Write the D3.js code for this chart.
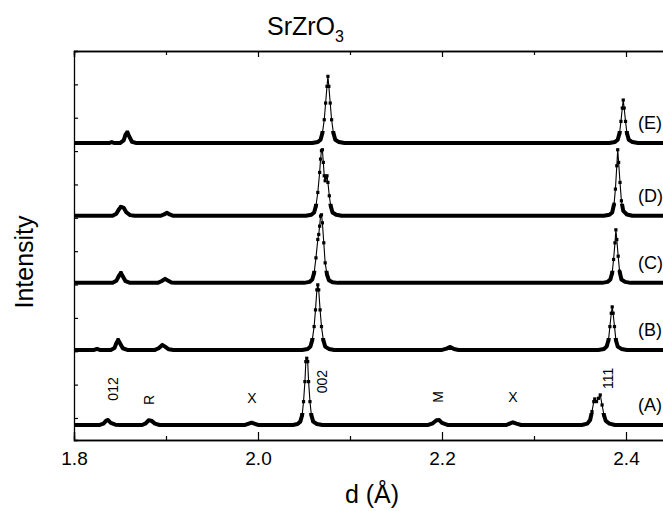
<!DOCTYPE html>
<html><head><meta charset="utf-8">
<script src="https://cdn.jsdelivr.net/npm/d3@7"></script>
<style>body{margin:0;background:#fff}svg{display:block}text{font-family:"Liberation Sans",Arial,sans-serif;fill:#000}</style>
</head><body>
<script>
// ---- data (d in Å, intensity relative to each trace's own baseline, arbitrary units) ----
const seriesNames = ["(A)","(B)","(C)","(D)","(E)"];
const seriesOffsets = [-0.21, 2.04, 4.05, 6.06, 8.24];
const seriesA = [[1.800,0],[1.828,0],[1.832,0.04],[1.835,0.13],[1.837,0.15],[1.840,0.06],[1.845,0.01],[1.850,0],[1.874,0],[1.878,0.05],[1.881,0.14],[1.884,0.13],[1.888,0.04],[1.893,0],[1.986,0],[1.990,0.04],[1.993,0.07],[1.996,0.04],[2.000,0],[2.038,0],[2.043,0.03],[2.046,0.1],[2.048,0.3],[2.0495,0.7],[2.051,1.3],[2.052,1.9],[2.053,2.0],[2.054,1.9],[2.055,1.3],[2.0565,0.7],[2.058,0.3],[2.060,0.1],[2.064,0.03],[2.070,0],[2.185,0],[2.190,0.05],[2.194,0.14],[2.197,0.15],[2.200,0.06],[2.206,0],[2.270,0],[2.274,0.05],[2.277,0.08],[2.281,0.04],[2.286,0],[2.352,0],[2.358,0.04],[2.361,0.15],[2.363,0.4],[2.365,0.7],[2.366,0.78],[2.368,0.7],[2.370,0.8],[2.372,0.9],[2.374,0.6],[2.376,0.3],[2.378,0.12],[2.382,0.04],[2.388,0],[2.450,0]];
const seriesB = [[1.800,0],[1.822,0],[1.825,0.03],[1.828,0],[1.840,0],[1.844,0.06],[1.846,0.2],[1.848,0.3],[1.850,0.2],[1.853,0.05],[1.858,0],[1.888,0],[1.892,0.05],[1.896,0.15],[1.899,0.1],[1.903,0.02],[1.908,0],[2.048,0],[2.054,0.03],[2.057,0.1],[2.059,0.3],[2.061,0.7],[2.0625,1.2],[2.064,1.8],[2.065,1.95],[2.066,1.8],[2.0675,1.2],[2.069,0.7],[2.071,0.3],[2.073,0.1],[2.077,0.03],[2.083,0],[2.200,0],[2.205,0.04],[2.209,0.09],[2.213,0.03],[2.218,0],[2.370,0],[2.376,0.03],[2.379,0.1],[2.381,0.3],[2.3825,0.7],[2.384,1.1],[2.385,1.29],[2.386,1.1],[2.3875,0.7],[2.389,0.3],[2.391,0.1],[2.395,0.03],[2.401,0],[2.450,0]];
const seriesC = [[1.800,0],[1.842,0],[1.846,0.06],[1.849,0.22],[1.851,0.3],[1.853,0.2],[1.856,0.05],[1.861,0],[1.891,0],[1.895,0.05],[1.899,0.12],[1.902,0.07],[1.906,0.01],[1.910,0],[2.050,0],[2.056,0.03],[2.059,0.1],[2.061,0.3],[2.063,0.75],[2.065,1.3],[2.066,1.45],[2.067,1.7],[2.068,2.0],[2.069,2.04],[2.070,1.8],[2.0715,1.2],[2.073,0.6],[2.075,0.25],[2.077,0.08],[2.081,0.02],[2.087,0],[2.374,0],[2.380,0.03],[2.383,0.1],[2.385,0.3],[2.3865,0.7],[2.388,1.2],[2.389,1.59],[2.390,1.3],[2.3915,0.8],[2.393,0.35],[2.395,0.1],[2.399,0.03],[2.405,0],[2.450,0]];
const seriesD = [[1.800,0],[1.842,0],[1.846,0.06],[1.849,0.2],[1.851,0.27],[1.854,0.24],[1.857,0.1],[1.861,0.02],[1.866,0],[1.894,0],[1.898,0.04],[1.901,0.09],[1.904,0.04],[1.908,0],[2.052,0],[2.058,0.03],[2.061,0.1],[2.063,0.3],[2.065,0.7],[2.067,1.3],[2.068,1.7],[2.069,1.95],[2.070,1.98],[2.071,1.6],[2.072,1.2],[2.073,1.05],[2.074,1.15],[2.075,1.2],[2.076,1.0],[2.0775,0.6],[2.079,0.3],[2.081,0.1],[2.085,0.03],[2.091,0],[2.376,0],[2.382,0.03],[2.385,0.1],[2.387,0.35],[2.3885,0.8],[2.390,1.5],[2.391,1.98],[2.392,1.6],[2.3935,1.0],[2.395,0.45],[2.397,0.15],[2.401,0.04],[2.407,0],[2.450,0]];
const seriesE = [[1.800,0],[1.838,0],[1.841,0.03],[1.844,0],[1.850,0],[1.854,0.08],[1.856,0.25],[1.858,0.33],[1.860,0.2],[1.863,0.04],[1.868,0],[2.059,0],[2.065,0.03],[2.068,0.1],[2.070,0.3],[2.072,0.7],[2.0735,1.2],[2.075,1.7],[2.076,2.0],[2.077,1.7],[2.0785,1.2],[2.080,0.7],[2.082,0.3],[2.084,0.1],[2.088,0.03],[2.094,0],[2.382,0],[2.388,0.03],[2.391,0.1],[2.393,0.3],[2.3945,0.65],[2.396,1.05],[2.397,1.29],[2.398,1.05],[2.3995,0.65],[2.401,0.3],[2.403,0.1],[2.407,0.03],[2.413,0],[2.450,0]];
const allSeries = [seriesA, seriesB, seriesC, seriesD, seriesE];
const peakLabels = ["012","R","X","002","M","X","111"];
const peakLabelD = [1.8424,1.8815,1.9935,2.0696,2.1957,2.2772,2.3804];
const peakLabelLevel = [1.08,0.75,0.81,1.30,0.84,0.84,1.40];
const peakLabelRotated = [true,true,false,true,true,false,true];
const seriesLabelD = 2.413;
const seriesLabelLevel = 0.55;
const xMajorTicks = [1.8,2.0,2.2,2.4];
const xMinorTicks = [1.9,2.1,2.3];
const yTicks = [0,1,2,3,4,5,6,7,8,9,10,11];
const titleText = "SrZrO";
const titleSub = "3";
const xTitle = "d (Å)";
const yTitle = "Intensity";

// ---- layout ----
const W = 663, H = 511;
const mLeft = 74, mTop = 51, mBottom = 440, mRight = 672;
const x = d3.scaleLinear().domain([1.8, 2.45]).range([mLeft, mRight]);
const y = d3.scaleLinear().domain([-0.66, 11]).range([mBottom, mTop]);

const svg = d3.select("body").append("svg").attr("width", W).attr("height", H);
const defs = svg.append("defs");
defs.append("clipPath").attr("id","clip")
  .append("rect").attr("x", mLeft).attr("y", mTop).attr("width", mRight-mLeft).attr("height", mBottom-mTop);

// traces: dense-marker look near the baseline (thick band), thin line + markers on peaks
const g = svg.append("g").attr("clip-path","url(#clip)");
allSeries.forEach((s, i) => {
  const off = seriesOffsets[i];
  const line = d3.line().x(p => x(p[0])).y(p => y(p[1] + off));
  const band = 0.36;
  defs.append("clipPath").attr("id","band"+i).append("rect")
    .attr("x", mLeft).attr("width", mRight-mLeft)
    .attr("y", y(off + band)).attr("height", y(off - 0.3) - y(off + band));
  g.append("path").datum(s).attr("d", line).attr("clip-path",`url(#band${i})`)
    .attr("fill","none").attr("stroke","#000").attr("stroke-width",4).attr("stroke-linejoin","round");
  g.append("path").datum(s).attr("d", line)
    .attr("fill","none").attr("stroke","#000").attr("stroke-width",1.1).attr("stroke-linejoin","round");
  g.selectAll(null).data(s.filter(p => p[1] > 0.25)).enter().append("rect")
    .attr("x", p => x(p[0]) - 1.6).attr("y", p => y(p[1] + off) - 1.6)
    .attr("width", 3.2).attr("height", 3.2).attr("fill","#000");
});

// series labels
seriesNames.forEach((n, i) => {
  svg.append("text").attr("x", x(seriesLabelD)).attr("y", y(seriesOffsets[i] + seriesLabelLevel))
    .attr("font-size", 18).attr("dominant-baseline","middle").text(n);
});

// peak labels on (A)
peakLabels.forEach((t, i) => {
  const px = x(peakLabelD[i]), py = y(seriesOffsets[0] + peakLabelLevel[i]);
  svg.append("text").attr("transform", `translate(${px},${py}) rotate(${peakLabelRotated[i] ? -90 : 0})`)
    .attr("text-anchor","middle").attr("dominant-baseline","central").attr("font-size", 14).text(t);
});

// axes
const axG = svg.append("g");
axG.append("g").attr("transform",`translate(0,${mBottom})`)
  .call(d3.axisBottom(x).tickValues(xMajorTicks).tickSize(-8).tickPadding(12).tickFormat(d3.format(".1f")));
axG.append("g").attr("transform",`translate(0,${mBottom})`)
  .call(d3.axisBottom(x).tickValues(xMinorTicks).tickSize(-4).tickFormat(""));
axG.append("g").attr("transform",`translate(0,${mTop})`)
  .call(d3.axisTop(x).tickValues(xMajorTicks).tickSize(-6).tickFormat(""));
axG.append("g").attr("transform",`translate(0,${mTop})`)
  .call(d3.axisTop(x).tickValues(xMinorTicks).tickSize(-4).tickFormat(""));
axG.append("g").attr("transform",`translate(${mLeft},0)`)
  .call(d3.axisLeft(y).tickValues(yTicks).tickSize(-4).tickFormat(""));
axG.selectAll(".domain").attr("stroke","#000").attr("stroke-width",1.3);
axG.selectAll(".tick line").attr("stroke","#000").attr("stroke-width",1.2);
axG.selectAll(".tick text").attr("font-size",19).attr("font-family","Liberation Sans, Arial, sans-serif");

// titles
const tt = svg.append("text").attr("x", 267).attr("y", 35).attr("text-anchor","start").attr("font-size", 25);
tt.append("tspan").text(titleText);
tt.append("tspan").attr("font-size", 16).attr("dy", 7).text(titleSub);
svg.append("text").attr("x", 372).attr("y", 503).attr("text-anchor","middle").attr("font-size", 25).text(xTitle);
svg.append("text").attr("transform", `translate(33,262) rotate(-90)`).attr("text-anchor","middle").attr("font-size", 25).text(yTitle);
</script>
</body></html>
